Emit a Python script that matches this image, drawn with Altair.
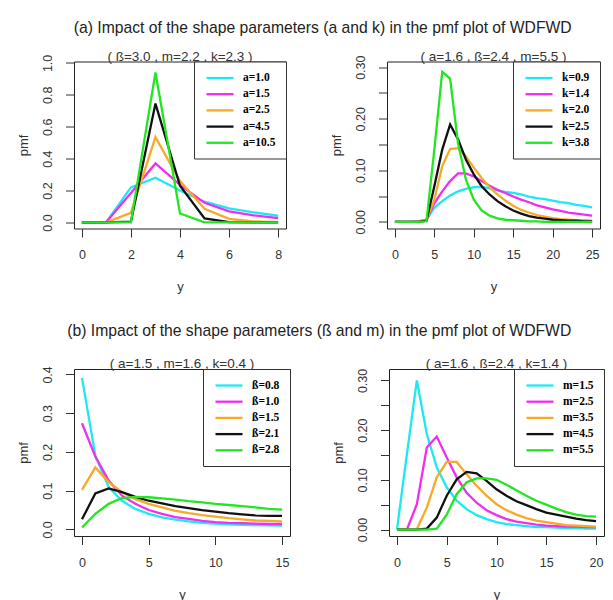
import altair as alt
import pandas as pd

COLORS = ["#1FE8F2", "#F02EF0", "#F7A928", "#111111", "#22E622"]
SANS = "Liberation Sans"
SERIF = "Liberation Serif"

# ---------- Panel 1: a varies ----------
p1_x = [0, 1, 2, 3, 4, 5, 6, 7, 8]
p1_labels = ["a=1.0", "a=1.5", "a=2.5", "a=4.5", "a=10.5"]
p1_a10 = [0, 0.004, 0.22, 0.28, 0.20, 0.13, 0.088, 0.063, 0.042]
p1_a15 = [0, 0.003, 0.185, 0.37, 0.235, 0.123, 0.07, 0.044, 0.027]
p1_a25 = [0, 0, 0.06, 0.535, 0.26, 0.086, 0.023, 0.006, 0.002]
p1_a45 = [0, 0, 0.005, 0.745, 0.23, 0.025, 0.002, 0, 0]
p1_a105 = [0, 0, 0, 0.94, 0.056, 0, 0, 0, 0]
p1_xticks = [0, 2, 4, 6, 8]
p1_yticks = [0, 0.2, 0.4, 0.6, 0.8, 1.0]

# ---------- Panel 2: k varies ----------
p2_x = list(range(0, 26))
p2_labels = ["k=0.9", "k=1.4", "k=2.0", "k=2.5", "k=3.8"]
p2_k09 = [0, 0, 0, 0.001, 0.004, 0.027, 0.04, 0.051, 0.059, 0.064, 0.067, 0.068, 0.065,
          0.061, 0.058, 0.056, 0.053, 0.049, 0.046, 0.044, 0.041, 0.038, 0.036, 0.033, 0.031, 0.028]
p2_k14 = [0, 0, 0, 0.001, 0.003, 0.036, 0.059, 0.079, 0.094, 0.094, 0.088, 0.079, 0.07,
          0.062, 0.056, 0.049, 0.043, 0.038, 0.032, 0.028, 0.024, 0.021, 0.018, 0.016, 0.014, 0.012]
p2_k20 = [0, 0, 0, 0, 0.003, 0.043, 0.108, 0.141, 0.143, 0.127, 0.105, 0.085, 0.067,
          0.053, 0.041, 0.031, 0.023, 0.018, 0.013, 0.01, 0.007, 0.005, 0.004, 0.003, 0.003, 0.002]
p2_k25 = [0, 0, 0, 0, 0.002, 0.069, 0.14, 0.189, 0.16, 0.121, 0.092, 0.069, 0.053,
          0.04, 0.03, 0.022, 0.016, 0.011, 0.008, 0.006, 0.004, 0.003, 0.002, 0.002, 0.001, 0.001]
p2_k38 = [0, 0, 0, 0, 0.001, 0.14, 0.291, 0.278, 0.153, 0.082, 0.043, 0.022, 0.012,
          0.0065, 0.004, 0.003, 0.002, 0.001, 0.001, 0, 0, 0, 0, 0, 0, 0]
p2_xticks = [0, 5, 10, 15, 20, 25]
p2_yticks = [0, 0.05, 0.10, 0.15, 0.20, 0.25, 0.30]

# ---------- Panel 3: beta varies ----------
p3_x = list(range(0, 16))
p3_labels = ["ß=0.8", "ß=1.0", "ß=1.5", "ß=2.1", "ß=2.8"]
p3_b08 = [0.391, 0.19, 0.109, 0.074, 0.053, 0.04, 0.031, 0.025, 0.021, 0.017, 0.015, 0.013, 0.012, 0.011, 0.0105, 0.010]
p3_b10 = [0.274, 0.188, 0.126, 0.087, 0.066, 0.05, 0.04, 0.032, 0.027, 0.022, 0.019, 0.017, 0.016, 0.015, 0.014, 0.014]
p3_b15 = [0.102, 0.16, 0.122, 0.096, 0.078, 0.066, 0.057, 0.048, 0.042, 0.037, 0.033, 0.029, 0.026, 0.023, 0.022, 0.021]
p3_b21 = [0.026, 0.093, 0.106, 0.096, 0.084, 0.074, 0.067, 0.06, 0.055, 0.05, 0.046, 0.042, 0.039, 0.036, 0.035, 0.035]
p3_b28 = [0.005, 0.04, 0.066, 0.081, 0.084, 0.083, 0.08, 0.077, 0.073, 0.07, 0.066, 0.063, 0.06, 0.057, 0.053, 0.051]
p3_xticks = [0, 5, 10, 15]
p3_yticks = [0, 0.1, 0.2, 0.3, 0.4]

# ---------- Panel 4: m varies ----------
p4_x = list(range(0, 21))
p4_labels = ["m=1.5", "m=2.5", "m=3.5", "m=4.5", "m=5.5"]
p4_m15 = [0, 0.152, 0.30, 0.192, 0.125, 0.085, 0.058, 0.041, 0.029, 0.021, 0.015,
          0.011, 0.009, 0.007, 0.005, 0.005, 0.004, 0.003, 0.003, 0.002, 0.002]
p4_m25 = [0, 0, 0.051, 0.165, 0.187, 0.145, 0.105, 0.074, 0.054, 0.039, 0.029,
          0.021, 0.016, 0.013, 0.01, 0.008, 0.007, 0.006, 0.006, 0.005, 0.005]
p4_m35 = [0, 0, 0.001, 0.044, 0.105, 0.136, 0.136, 0.111, 0.088, 0.068, 0.051,
          0.039, 0.03, 0.023, 0.018, 0.015, 0.012, 0.009, 0.008, 0.007, 0.006]
p4_m45 = [0, 0, 0, 0.002, 0.024, 0.068, 0.101, 0.116, 0.113, 0.098, 0.081,
          0.068, 0.057, 0.049, 0.041, 0.034, 0.03, 0.026, 0.022, 0.019, 0.017]
p4_m55 = [0, 0, 0, 0, 0.002, 0.03, 0.071, 0.095, 0.103, 0.103, 0.1,
          0.09, 0.079, 0.068, 0.058, 0.05, 0.042, 0.035, 0.03, 0.027, 0.026]
p4_xticks = [0, 5, 10, 15, 20]
p4_yticks = [0, 0.05, 0.10, 0.15, 0.20, 0.25, 0.30]

TITLE_A = "(a) Impact of the shape parameters (a and k) in the pmf plot of WDFWD"
TITLE_B = "(b) Impact of the shape parameters (ß and m) in the pmf plot of WDFWD"
SUB1 = "( ß=3.0 , m=2.2 , k=2.3 )"
SUB2 = "( a=1.6 , ß=2.4 , m=5.5 )"
SUB3 = "( a=1.5 , m=1.6 , k=0.4 )"
SUB4 = "( a=1.6 , ß=2.4 , k=1.4 )"

HALF_LABELS = "round(datum.value*100) % 10 == 0 ? format(datum.value, '.2f') : ''"


def panel(xs, series, labels, subtitle, xdom, ydom, xticks, yticks, yfmt, label_expr, w, h):
    rows = []
    for order, (lab, vals) in enumerate(zip(labels, series)):
        for x, v in zip(xs, vals):
            rows.append({"y": x, "pmf": v, "s": lab, "o": order})
    df = pd.DataFrame(rows)
    yaxis_kw = dict(
        values=yticks, format=yfmt, title="pmf", labelAngle=270,
        labelAlign="center", labelBaseline="bottom", labelPadding=11.5,
        titlePadding=11,
    )
    if label_expr:
        yaxis_kw["labelExpr"] = label_expr
    lines = (
        alt.Chart(df)
        .mark_line(strokeWidth=2.3, clip=True)
        .encode(
            x=alt.X("y:Q", scale=alt.Scale(domain=xdom, nice=False, zero=False),
                    axis=alt.Axis(values=xticks, title="y", labelPadding=11.5, titlePadding=19.5)),
            y=alt.Y("pmf:Q", scale=alt.Scale(domain=ydom, nice=False, zero=False),
                    axis=alt.Axis(**yaxis_kw)),
            color=alt.Color(
                "s:N",
                sort=labels,
                scale=alt.Scale(domain=labels, range=COLORS),
                legend=alt.Legend(
                    title=None, orient="top-right", offset=0, padding=10,
                    strokeColor="#333", fillColor="white",
                    symbolType="M-0.8,0H4.6", symbolSize=100, symbolStrokeWidth=2.3,
                    labelOffset=26, labelFont=SERIF, labelFontWeight="bold",
                    labelFontSize=11.5, labelColor="black", rowPadding=4.2,
                ),
            ),
            order="o:Q",
        )
    )
    sub = (
        alt.Chart(pd.DataFrame({"t": [subtitle]}))
        .mark_text(font=SANS, fontSize=13.5, color="#333", align="center", baseline="middle")
        .encode(text="t:N", x=alt.value(w / 2), y=alt.value(-5))
    )
    return alt.layer(lines, sub).properties(width=w, height=h)


c1 = panel(p1_x, [p1_a10, p1_a15, p1_a25, p1_a45, p1_a105], p1_labels, SUB1,
           [-0.32, 8.32], [-0.038, 1.009], p1_xticks, p1_yticks, ".1f", None, 212, 167)
c2 = panel(p2_x, [p2_k09, p2_k14, p2_k20, p2_k25, p2_k38], p2_labels, SUB2,
           [-1, 26], [-0.013, 0.311], p2_xticks, p2_yticks, ".2f", HALF_LABELS, 213, 167)
c3 = panel(p3_x, [p3_b08, p3_b10, p3_b15, p3_b21, p3_b28], p3_labels, SUB3,
           [-0.6, 15.6], [-0.017, 0.414], p3_xticks, p3_yticks, ".1f", None, 216, 167)
c4 = panel(p4_x, [p4_m15, p4_m25, p4_m35, p4_m45, p4_m55], p4_labels, SUB4,
           [-0.8, 20.8], [-0.013, 0.323], p4_xticks, p4_yticks, ".2f", HALF_LABELS, 215, 167)

row_title = dict(fontSize=15.7, font=SANS, fontWeight="normal", color="#222", anchor="middle")

row1 = alt.hconcat(c1, c2, spacing=42,
                   title=alt.TitleParams(TITLE_A, offset=12.7, dx=14, **row_title)
                   ).resolve_scale(color="independent")
row2 = alt.hconcat(c3, c4, spacing=40,
                   title=alt.TitleParams(TITLE_B, offset=16.7, dx=8.5, **row_title)
                   ).resolve_scale(color="independent")

chart = (
    alt.vconcat(row1, row2, spacing=28.5)
    .resolve_scale(color="independent")
    .properties(padding={"left": 8, "top": 11.5, "right": 0, "bottom": 0}, background="white")
    .configure_view(stroke="#222", strokeWidth=1)
    .configure_axis(
        grid=False, domain=False, tickSize=8.5, tickColor="#333", tickWidth=1,
        labelFont=SANS, labelFontSize=12.5, labelColor="#333",
        titleFont=SANS, titleFontSize=13, titleFontWeight="normal", titleColor="#333",
    )
)

chart.save("out.html", embed_options={"renderer": "svg", "actions": False})
